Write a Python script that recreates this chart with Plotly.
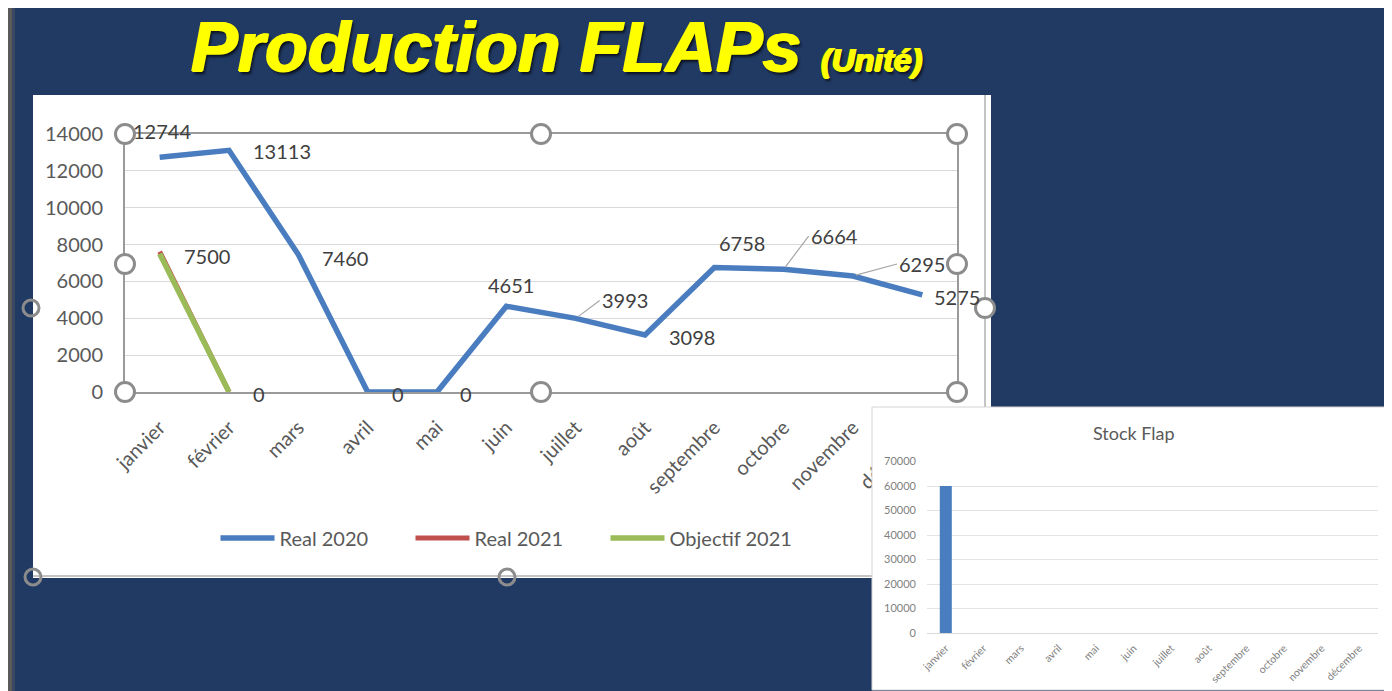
import plotly.graph_objects as go

# the page has an 8px body margin, so the figure is 8px smaller than the window
OFF = 8
W, H = 1384, 683

months = ['janvier', 'février', 'mars', 'avril', 'mai', 'juin', 'juillet',
          'août', 'septembre', 'octobre', 'novembre', 'décembre']
real_2020 = [12744, 13113, 7460, 0, 0, 4651, 3993, 3098, 6758, 6664, 6295, 5275]
real_2021 = [7620, 0] + [None] * 10
objectif_2021 = [7500, 0] + [None] * 10
stock_flap = [60000] + [None] * 11

NAVY = '#213a64'
BLUE = '#4a7dbf'
RED = '#c0504d'
GREEN = '#9bbb59'
GREY_TXT = '#595959'
FONT = 'Lato'


# screen pixel -> paper fraction
def px(x):
    return (x - OFF) / W


def py(y):
    return 1 - (y - OFF) / H


def rect(x0, y0, x1, y1, fill, layer='below', line=None):
    return dict(type='rect', xref='paper', yref='paper',
                x0=px(x0), x1=px(x1), y0=py(y1), y1=py(y0),
                fillcolor=fill, layer=layer,
                line=line or dict(width=0))


def circle(cx, cy, r, fill='white', layer='above'):
    return dict(type='circle', xref='paper', yref='paper',
                x0=px(cx - r), x1=px(cx + r), y0=py(cy + r), y1=py(cy - r),
                fillcolor=fill, layer=layer,
                line=dict(color='#8c8c8c', width=3))


fig = go.Figure()

# main line chart
fig.add_trace(go.Scatter(x=months, y=real_2020, mode='lines', name='Real 2020',
                         line=dict(color=BLUE, width=5.5), hoverinfo='skip'))
fig.add_trace(go.Scatter(x=months, y=real_2021, mode='lines', name='Real 2021',
                         line=dict(color=RED, width=5), hoverinfo='skip'))
fig.add_trace(go.Scatter(x=months, y=objectif_2021, mode='lines', name='Objectif 2021',
                         line=dict(color=GREEN, width=5.5), hoverinfo='skip'))

# helper subplots (empty): a hidden one under the inset, then the inset background
fig.add_trace(go.Scatter(x=[], y=[], xaxis='x2', yaxis='y2', showlegend=False))
fig.add_trace(go.Scatter(x=[], y=[], xaxis='x3', yaxis='y3', showlegend=False))

# inset bar chart
fig.add_trace(go.Bar(x=months, y=stock_flap, xaxis='x4', yaxis='y4', showlegend=False,
                     marker=dict(color=BLUE, line=dict(width=0)), hoverinfo='skip'))

# data labels
lab_font = dict(family=FONT, size=20, color='#404040')
# (xshift, yshift, xanchor) or leader offsets ('lead', ax, ay)
offsets_2020 = [(2, 26, 'center'), (22, -1, 'left'), (22, -3, 'left'), (22, -2, 'left'),
                (21, -2, 'left'), (5, 21, 'center'), ('lead', 24, -18), (22, -2, 'left'),
                (28, 24, 'center'), ('lead', 25, -33), ('lead', 44, -12), (10, -2, 'left')]
annotations = []
for m, v, off in zip(months, real_2020, offsets_2020):
    if off[0] == 'lead':
        annotations.append(dict(x=m, y=v, xref='x', yref='y', text=str(v), font=lab_font,
                                showarrow=True, arrowhead=0, arrowwidth=1.2,
                                arrowcolor='#a6a6a6', ax=off[1], ay=off[2],
                                xanchor='left', standoff=3))
    else:
        annotations.append(dict(x=m, y=v, xref='x', yref='y', text=str(v), font=lab_font,
                                showarrow=False, xshift=off[0], yshift=off[1],
                                xanchor=off[2]))
for m, v in zip(months, objectif_2021):
    if v is not None:
        annotations.append(dict(x=m, y=v, xref='x', yref='y', text=str(v), font=lab_font,
                                showarrow=False, xshift=22, yshift=-2, xanchor='left'))

# title
annotations.append(dict(
    xref='paper', yref='paper', x=px(556), y=py(47), xanchor='center', yanchor='middle',
    text="Production FLAPs <span style='font-size:32px'>(Unité)</span>",
    showarrow=False,
    font=dict(family='Liberation Sans', size=70, color='#ffff00', weight='bold',
              style='italic',
              shadow='1px 0 0 #ffff00, -1px 0 0 #ffff00, 0 1px 0 #ffff00, '
                     '2px 3px 3px rgba(0,0,0,0.75)')))
annotations.append(dict(
    xref='paper', yref='paper', x=px(1134), y=py(433), xanchor='center', yanchor='middle',
    text='Stock Flap', showarrow=False, font=dict(family=FONT, size=18, color=GREY_TXT)))

shapes = [
    rect(8, 8, 12, 691, '#5a5a5a'),
    rect(12, 8, 15, 691, '#3c4863'),
    rect(33, 95, 991, 578, 'white'),
    dict(type='line', xref='paper', yref='paper', x0=px(985), x1=px(985), y0=py(578), y1=py(95),
         line=dict(color='#c4c4c4', width=2), layer='below'),
    dict(type='line', xref='paper', yref='paper', x0=px(33), x1=px(985), y0=py(576), y1=py(576),
         line=dict(color='#c4c4c4', width=2), layer='below'),
    rect(872, 407, 1391, 690, 'rgba(0,0,0,0)', layer='above',
         line=dict(color='#d4d4d4', width=1)),
]
for cx, cy in [(125, 134), (541, 134), (957, 134), (125, 264), (957, 264),
               (125, 392), (541, 392), (957, 392), (985, 308)]:
    shapes.append(circle(cx, cy, 9.5))
for cx, cy in [(31, 308), (507, 577), (33, 577)]:
    shapes.append(circle(cx, cy, 8, fill='rgba(0,0,0,0)', layer='below'))

fig.update_layout(
    width=W, height=H, autosize=False,
    margin=dict(l=0, r=0, t=0, b=0, autoexpand=False),
    paper_bgcolor=NAVY, plot_bgcolor='white',
    font=dict(family=FONT, color=GREY_TXT),
    showlegend=True,
    legend=dict(orientation='h', x=px(508), y=py(538), xanchor='center', yanchor='middle',
                itemwidth=54, entrywidth=126, entrywidthmode='pixels',
                font=dict(family=FONT, size=20, color=GREY_TXT), bgcolor='rgba(0,0,0,0)'),
    xaxis=dict(domain=[px(125), px(957)], anchor='y', type='category', automargin=False,
               range=[-0.5, 11.5], showgrid=False, showline=True, mirror=True,
               linecolor='#9a9a9a', linewidth=2, ticks='', tickangle=-45,
               ticklabelstandoff=14,
               tickfont=dict(family=FONT, size=20, color=GREY_TXT)),
    yaxis=dict(domain=[py(392), py(134)], anchor='x', range=[0, 14000], dtick=2000,
               tickformat='d', automargin=False,
               showgrid=True, gridcolor='#d9d9d9', gridwidth=1, zeroline=False,
               showline=True, mirror=True, linecolor='#9a9a9a', linewidth=2,
               ticks='', ticklabelstandoff=16,
               tickfont=dict(family=FONT, size=20, color=GREY_TXT)),
    xaxis2=dict(domain=[px(880), px(985)], anchor='y2', visible=False, range=[0, 1]),
    yaxis2=dict(domain=[py(570), py(412)], anchor='x2', visible=False, range=[0, 1]),
    xaxis3=dict(domain=[px(872), px(1391)], anchor='y3', visible=False, range=[0, 1]),
    yaxis3=dict(domain=[py(690), py(407)], anchor='x3', visible=False, range=[0, 1]),
    xaxis4=dict(domain=[px(927), px(1378)], anchor='y4', type='category', automargin=False,
                range=[-0.5, 11.5], showgrid=False, showline=True, linecolor='#d9d9d9',
                linewidth=1, ticks='', tickangle=-45, ticklabelstandoff=4,
                tickfont=dict(family=FONT, size=10.5, color='#7f7f7f')),
    yaxis4=dict(domain=[py(633), py(461.5)], anchor='x4', range=[0, 70000], dtick=10000,
                tickformat='d', automargin=False,
                showgrid=True, gridcolor='#e3e3e3', gridwidth=1, zeroline=False,
                showline=False, ticks='', ticklabelstandoff=10,
                tickfont=dict(family=FONT, size=11, color='#7f7f7f')),
    bargap=0.68,
    shapes=shapes,
    annotations=annotations,
)

fig.write_html("out.html")
